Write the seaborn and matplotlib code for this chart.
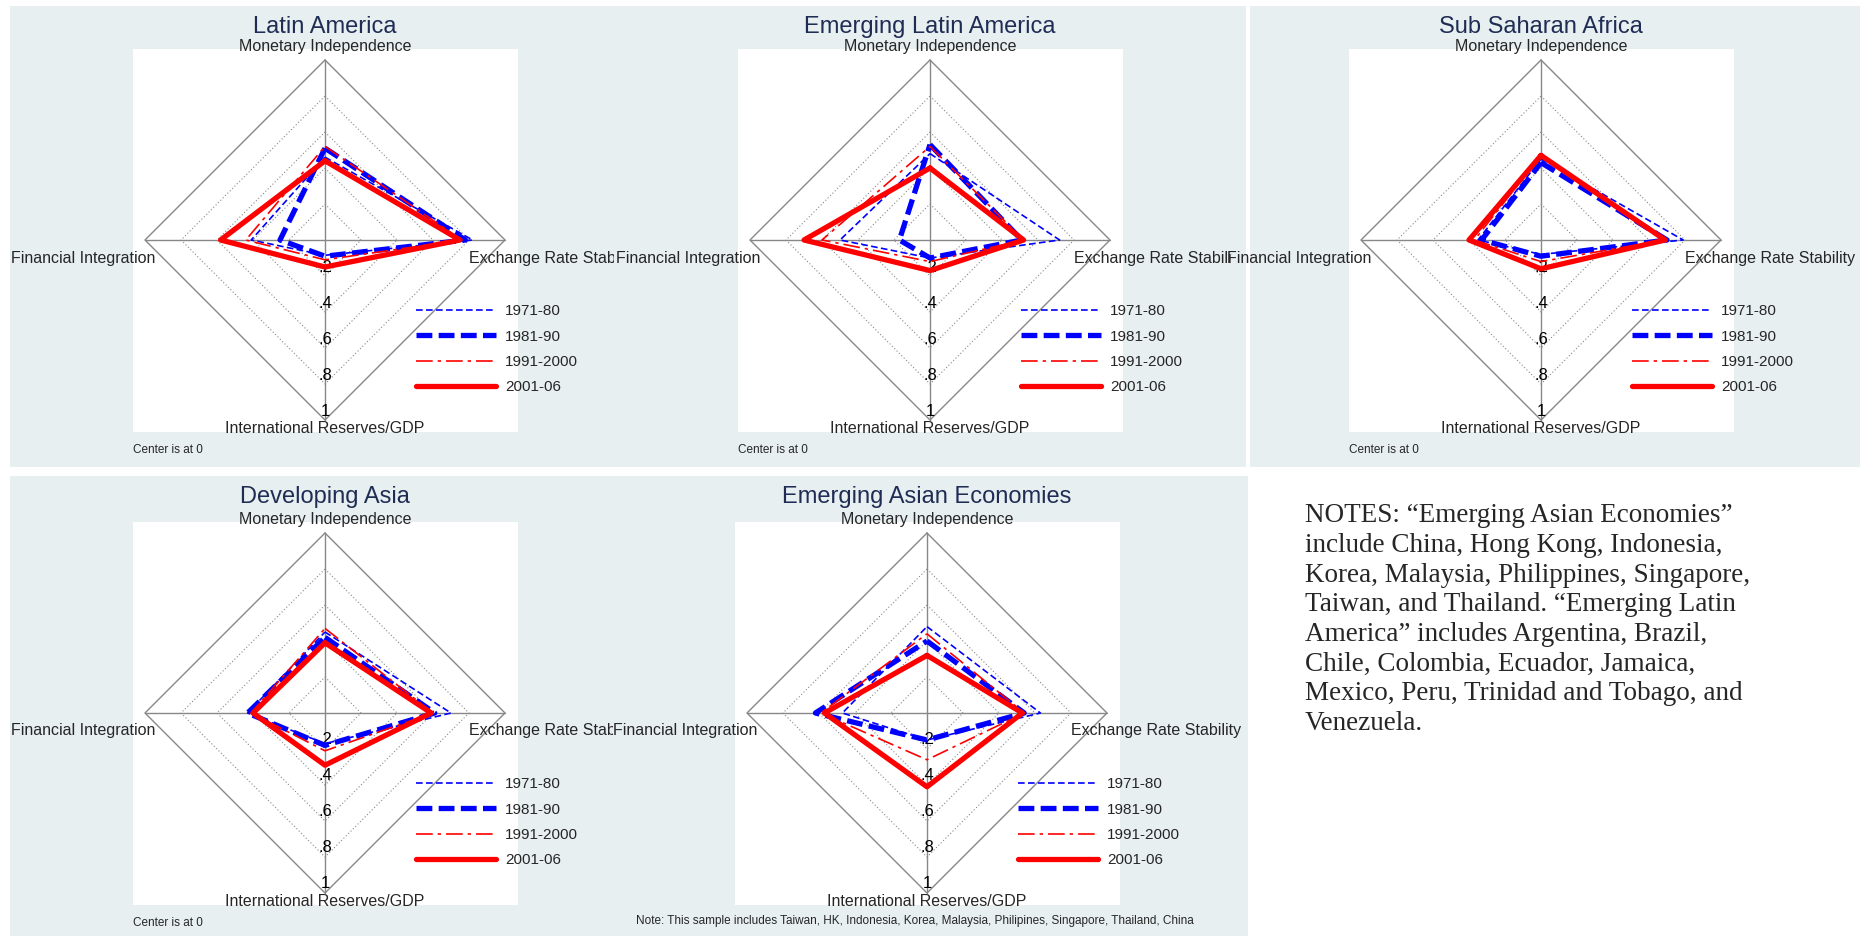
import numpy as np
import pandas as pd
import matplotlib
matplotlib.use("Agg")
import matplotlib.pyplot as plt
import seaborn as sns
from matplotlib.patches import Rectangle
from matplotlib.transforms import Bbox, TransformedBbox

sns.set_theme(style="white")
plt.rcParams['font.family'] = ['Liberation Sans', 'DejaVu Sans']

########## data: [Monetary Independence, Exchange Rate Stability, Int. Reserves/GDP, Financial Integration]
periods = ["1971-80", "1981-90", "1991-2000", "2001-06"]
titles = ["Latin America", "Emerging Latin America", "Sub Saharan Africa",
          "Developing Asia", "Emerging Asian Economies"]

latin_america = [[0.46, 0.82, 0.085, 0.41], [0.51, 0.78, 0.09, 0.25],
                 [0.52, 0.76, 0.11, 0.44], [0.44, 0.75, 0.15, 0.58]]
emerging_latin = [[0.48, 0.72, 0.10, 0.50], [0.53, 0.51, 0.10, 0.17],
                  [0.52, 0.52, 0.12, 0.60], [0.40, 0.52, 0.17, 0.70]]
sub_saharan = [[0.45, 0.79, 0.08, 0.35], [0.43, 0.70, 0.09, 0.33],
               [0.47, 0.69, 0.12, 0.37], [0.47, 0.69, 0.16, 0.40]]
developing_asia = [[0.45, 0.70, 0.17, 0.43], [0.42, 0.61, 0.18, 0.43],
                   [0.47, 0.60, 0.21, 0.41], [0.39, 0.59, 0.29, 0.40]]
emerging_asia = [[0.48, 0.63, 0.15, 0.47], [0.40, 0.54, 0.15, 0.62],
                 [0.44, 0.54, 0.26, 0.59], [0.32, 0.53, 0.41, 0.57]]
all_data = [latin_america, emerging_latin, sub_saharan, developing_asia, emerging_asia]

ticks = [0.2, 0.4, 0.6, 0.8, 1.0]
tick_labels = [".2", ".4", ".6", ".8", "1"]
axis_names = ["Monetary Independence", "Exchange Rate Stability",
              "International Reserves/GDP", "Financial Integration"]

# series styles
colors = ["blue", "blue", "red", "red"]
widths = [1.2, 3.8, 1.2, 3.8]
dashes = [(4, 2), (3, 1.2), (10, 3, 2, 3), None]

# panel layout in pixels (1874 x 936)
W, H = 1874, 936
centers = [(325, 240), (930, 240), (1541, 240), (325, 713), (927, 713)]
bg_boxes = [(10, 6, 614, 467), (614, 6, 1246, 467), (1250, 6, 1860, 467),
            (10, 476, 613, 936), (613, 476, 1248, 936)]
clip_right = [614, 1232, 1870, 613, 1260]   # where the right axis label gets cut
R = 180
bg_col = "#e8eff1"
title_col = "#1f2d55"

fig = plt.figure(figsize=(W / 100, H / 100), dpi=100)
bg = fig.add_axes([0, 0, 1, 1], zorder=0)
bg.set_xlim(0, W); bg.set_ylim(H, 0); bg.axis("off")
ov = fig.add_axes([0, 0, 1, 1], zorder=5)
ov.set_xlim(0, W); ov.set_ylim(H, 0); ov.axis("off")
ov.patch.set_alpha(0)

# unit direction of each spoke: up, right, down, left
dirs = np.array([[0, 1], [1, 0], [0, -1], [-1, 0]])

for i, (title, data) in enumerate(zip(titles, all_data)):
    cx, cy = centers[i]
    x0, y0, x1, y1 = bg_boxes[i]
    bg.add_patch(Rectangle((x0, y0), x1 - x0, y1 - y0, color=bg_col, lw=0))

    # white plotting area
    wl, wr, wt, wb = cx - 192, cx + 193, cy - 191, cy + 192
    ax = fig.add_axes([wl / W, 1 - wb / H, (wr - wl) / W, (wb - wt) / H], zorder=2)
    ax.set_facecolor("white")
    ax.set_xlim((wl - cx) / R, (wr - cx) / R)
    ax.set_ylim((cy - wb) / R, (cy - wt) / R)
    ax.set_xticks([]); ax.set_yticks([])
    for s in ax.spines.values():
        s.set_visible(False)

    # grid diamonds
    for t in ticks:
        pts = np.vstack([dirs * t, dirs[:1] * t])
        ax.plot(pts[:, 0], pts[:, 1], color="#888888",
                lw=1.0 if t == 1 else 0.8, ls="-" if t == 1 else (0, (1, 2)), zorder=1)
    ax.plot([-1, 1], [0, 0], color="#888888", lw=1.0, zorder=1)
    ax.plot([0, 0], [-1, 1], color="#888888", lw=1.0, zorder=1)
    for t, lab in zip(ticks, tick_labels):
        ax.text(0, -t + 0.05, lab, ha="center", va="center", fontsize=12, color="black", zorder=2)

    # series
    for j, period in enumerate(periods):
        vals = np.array(data[j])
        pts = dirs * vals[:, None]
        pts = np.vstack([pts, pts[:1]])
        df = pd.DataFrame({"x": pts[:, 0], "y": pts[:, 1]})
        sns.lineplot(data=df, x="x", y="y", sort=False, estimator=None, ax=ax,
                     color=colors[j], lw=widths[j], label=period, zorder=3 + j)
        line = ax.get_lines()[-1]
        if dashes[j] is not None:
            line.set_dashes(dashes[j])
    ax.set_xlabel(""); ax.set_ylabel("")
    ax.legend(loc="upper left", bbox_to_anchor=(0.72, 0.35), frameon=False,
              fontsize=11, handlelength=5.2, labelspacing=0.75, borderaxespad=0,
              handletextpad=0.6)

    # texts
    ov.text(cx, 10 + y0, title, ha="center", va="top", fontsize=17, color=title_col)
    ov.text(cx, cy - R - 6, axis_names[0], ha="center", va="bottom", fontsize=11.5)
    ov.text(cx, cy + R + 1, axis_names[2], ha="center", va="top", fontsize=11.5)
    ov.text(cx - R + 10, cy + 18, axis_names[3], ha="right", va="center", fontsize=11.5)
    t = ov.text(cx + R - 36, cy + 18, axis_names[1], ha="left", va="center",
                fontsize=11.5, zorder=1)
    t.set_clip_on(True)
    t.set_clip_box(TransformedBbox(Bbox([[x0, y0], [clip_right[i], y1]]), ov.transData))
    if i == 4:
        ov.text(636, 927, "Note: This sample includes Taiwan, HK, Indonesia, Korea, Malaysia, "
                "Philipines, Singapore, Thailand, China", ha="left", va="bottom", fontsize=8.5)
    else:
        ov.text(wl, cy + 210, "Center is at 0", ha="left", va="center", fontsize=8.5)

notes = ("NOTES: \u201cEmerging Asian Economies\u201d\n"
         "include China, Hong Kong, Indonesia,\n"
         "Korea, Malaysia, Philippines, Singapore,\n"
         "Taiwan, and Thailand. \u201cEmerging Latin\n"
         "America\u201d includes Argentina, Brazil,\n"
         "Chile, Colombia, Ecuador, Jamaica,\n"
         "Mexico, Peru, Trinidad and Tobago, and\n"
         "Venezuela.")
ov.text(1305, 503, notes, ha="left", va="top", fontsize=19.5,
        family=["Liberation Serif", "DejaVu Serif"], linespacing=1.25)

fig.savefig("out.png", dpi=100)
